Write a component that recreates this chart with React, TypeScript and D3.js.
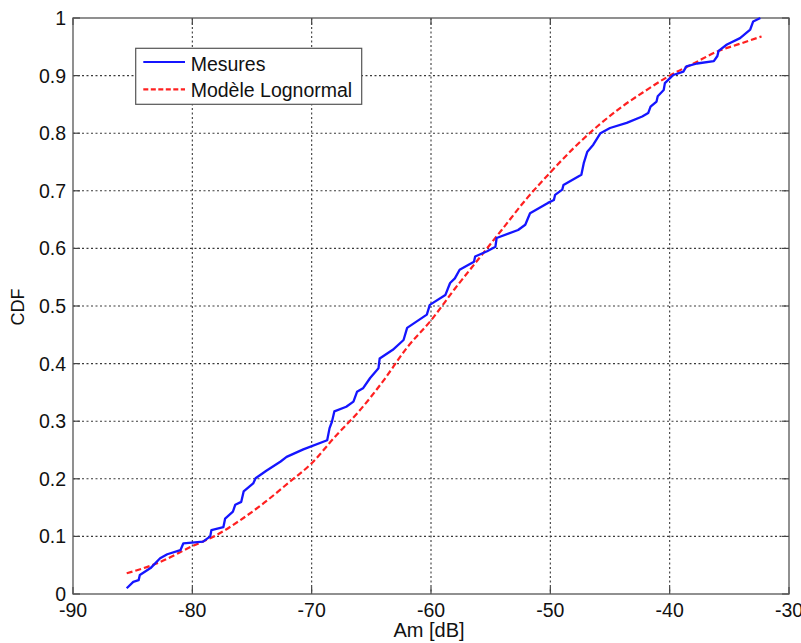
import React from "react";
import * as d3 from "d3";

const xTicks = [-90, -80, -70, -60, -50, -40, -30];
const yTicks = [0, 0.1, 0.2, 0.3, 0.4, 0.5, 0.6, 0.7, 0.8, 0.9, 1];
const yTickLabels = ["0", "0.1", "0.2", "0.3", "0.4", "0.5", "0.6", "0.7", "0.8", "0.9", "1"];

const mesuresX = [-85.5, -84.95, -84.5, -84.4, -83.5, -82.7, -82.1, -81.0, -80.75, -79.1, -78.5, -78.4, -77.4, -77.25, -76.6, -76.4, -75.9, -75.7, -74.9, -74.7, -73.8, -72.6, -72.1, -70.7, -68.7, -68.5, -68.3, -68.1, -67.1, -66.5, -66.2, -65.7, -65.1, -64.4, -64.3, -63.2, -62.3, -62.0, -60.35, -60.1, -58.8, -58.4, -58.0, -57.6, -56.4, -56.3, -55.3, -54.6, -54.5, -52.7, -52.1, -51.7, -50.2, -49.7, -49.6, -49.0, -48.9, -47.4, -47.2, -46.9, -46.4, -45.8, -45.0, -43.6, -42.3, -41.8, -41.6, -41.1, -41.0, -40.5, -40.4, -39.95, -39.7, -38.85, -38.6, -37.7, -36.3, -36.0, -35.9, -35.2, -34.1, -33.25, -33.0, -32.4];
const mesuresCdf = [0.01, 0.021, 0.024, 0.033, 0.045, 0.062, 0.069, 0.076, 0.088, 0.091, 0.1, 0.111, 0.116, 0.131, 0.143, 0.155, 0.16, 0.178, 0.192, 0.201, 0.214, 0.23, 0.238, 0.251, 0.267, 0.288, 0.299, 0.317, 0.325, 0.334, 0.351, 0.357, 0.375, 0.392, 0.409, 0.424, 0.441, 0.462, 0.485, 0.502, 0.519, 0.54, 0.548, 0.563, 0.577, 0.586, 0.595, 0.603, 0.618, 0.632, 0.641, 0.661, 0.679, 0.684, 0.693, 0.702, 0.71, 0.728, 0.748, 0.768, 0.78, 0.8, 0.809, 0.818, 0.829, 0.835, 0.846, 0.855, 0.864, 0.875, 0.887, 0.896, 0.901, 0.907, 0.916, 0.921, 0.925, 0.934, 0.943, 0.954, 0.965, 0.98, 0.994, 1.0];

const modelX = [-85.5, -83, -80, -78, -76, -74, -72, -70, -68, -66, -64, -62, -60, -58, -56, -54, -52, -50, -48, -46, -44, -42, -40, -38, -36, -34, -32.3];
const modelCdf = [0.036, 0.053, 0.083, 0.102, 0.128, 0.158, 0.192, 0.227, 0.274, 0.318, 0.37, 0.428, 0.475, 0.53, 0.582, 0.634, 0.686, 0.732, 0.775, 0.813, 0.846, 0.874, 0.9, 0.921, 0.942, 0.956, 0.968];

const left = 73, right = 789, top = 18, bottom = 594;
const font = "Arial, 'Liberation Sans', Helvetica, sans-serif";

export default function App() {
  const x = d3.scaleLinear().domain([-90, -30]).range([left, right]);
  const y = d3.scaleLinear().domain([0, 1]).range([bottom, top]);
  const line = d3.line<[number, number]>().x(d => x(d[0])).y(d => y(d[1]));
  const smooth = d3.line<[number, number]>().x(d => x(d[0])).y(d => y(d[1])).curve(d3.curveMonotoneX);
  const mPts = mesuresX.map((v, i) => [v, mesuresCdf[i]] as [number, number]);
  const lPts = modelX.map((v, i) => [v, modelCdf[i]] as [number, number]);
  const grid = "#3a3a3a";
  const tickLen = 7;
  return (
    <svg width={801} height={643} style={{ position: "absolute", left: 0, top: 0, background: "#fff" }}>
      <rect x={0} y={0} width={801} height={643} fill="#fff" />
      {xTicks.slice(1, -1).map(t => (
        <line key={"gx" + t} x1={x(t)} x2={x(t)} y1={top} y2={bottom} stroke={grid} strokeWidth={1.1} strokeDasharray="2,2.5" />
      ))}
      {yTicks.slice(1, -1).map(t => (
        <line key={"gy" + t} x1={left} x2={right} y1={y(t)} y2={y(t)} stroke={grid} strokeWidth={1.1} strokeDasharray="2,2.5" />
      ))}
      {xTicks.map(t => (
        <g key={"tx" + t}>
          <line x1={x(t)} x2={x(t)} y1={bottom} y2={bottom - tickLen} stroke="#444" strokeWidth={1.2} />
          <line x1={x(t)} x2={x(t)} y1={top} y2={top + tickLen} stroke="#444" strokeWidth={1.2} />
          <text x={x(t)} y={616.5} textAnchor="middle" fontFamily={font} fontSize={19.5} fill="#111">{t}</text>
        </g>
      ))}
      {yTicks.map((t, i) => (
        <g key={"ty" + t}>
          <line x1={left} x2={left + tickLen} y1={y(t)} y2={y(t)} stroke="#444" strokeWidth={1.2} />
          <line x1={right} x2={right - tickLen} y1={y(t)} y2={y(t)} stroke="#444" strokeWidth={1.2} />
          <text x={66} y={y(t) + 7} textAnchor="end" fontFamily={font} fontSize={19.5} fill="#111">{yTickLabels[i]}</text>
        </g>
      ))}
      <rect x={left} y={top} width={right - left} height={bottom - top} fill="none" stroke="#555" strokeWidth={1.3} />
      <path d={smooth(lPts) || ""} fill="none" stroke="#ff2020" strokeWidth={2.2} strokeDasharray="6,3" />
      <path d={line(mPts) || ""} fill="none" stroke="#1515ff" strokeWidth={2.3} strokeLinejoin="round" />
      <rect x={135.7} y={48.3} width={226} height={56} fill="#fff" stroke="#555" strokeWidth={1.2} />
      <line x1={143.3} x2={185} y1={62} y2={62} stroke="#1515ff" strokeWidth={2.2} />
      <line x1={143.3} x2={185} y1={89.3} y2={89.3} stroke="#ff2020" strokeWidth={2.2} strokeDasharray="5,2.5" />
      <text x={190.7} y={70.7} fontFamily={font} fontSize={19.5} fill="#111">Mesures</text>
      <text x={190.7} y={97.3} fontFamily={font} fontSize={19.5} fill="#111">Modèle Lognormal</text>
      <text x={429} y={637} textAnchor="middle" fontFamily={font} fontSize={20} fill="#111">Am [dB]</text>
      <text transform="translate(23.5,307) rotate(-90)" textAnchor="middle" fontFamily={font} fontSize={18} fill="#111">CDF</text>
    </svg>
  );
}
